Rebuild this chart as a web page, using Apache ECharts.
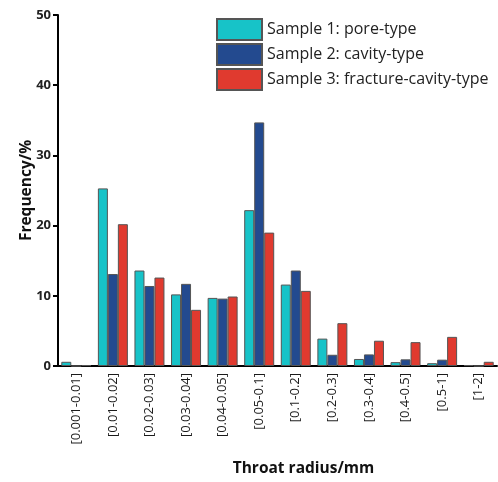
<!DOCTYPE html>
<html><head><meta charset="utf-8">
<script src="https://cdn.jsdelivr.net/npm/echarts@6/dist/echarts.min.js"></script>
<style>html,body{margin:0;padding:0;background:#fff}#c{width:498px;height:482px}</style>
</head><body><div id="c"></div>
<script>
const categories = ['[0.001-0.01]','[0.01-0.02]','[0.02-0.03]','[0.03-0.04]','[0.04-0.05]','[0.05-0.1]','[0.1-0.2]','[0.2-0.3]','[0.3-0.4]','[0.4-0.5]','[0.5-1]','[1-2]'];
const seriesNames = ['Sample 1: pore-type','Sample 2: cavity-type','Sample 3: fracture-cavity-type'];
const sample1 = [0.6, 25.3, 13.6, 10.2, 9.7, 22.2, 11.6, 3.9, 1.0, 0.55, 0.4, 0.12];
const sample2 = [0, 13.1, 11.4, 11.7, 9.6, 34.7, 13.6, 1.6, 1.65, 0.95, 0.9, 0];
const sample3 = [0.12, 20.2, 12.6, 8.0, 9.9, 19.0, 10.7, 6.1, 3.6, 3.4, 4.15, 0.6];
const yTicks = [0, 10, 20, 30, 40, 50];

const colors = ['#17c3c8', '#234a8f', '#e03a2f'];
const font = 'Open Sans';
const chart = echarts.init(document.getElementById('c'));
const mk = (name, data, i) => ({
  name, type: 'bar', data, barGap: '0%', barCategoryGap: '18%',
  itemStyle: { color: colors[i], borderColor: '#555', borderWidth: 1 }
});
chart.setOption({
  animation: false,
  textStyle: { fontFamily: font },
  legend: {
    orient: 'vertical', left: 216, top: 18, padding: 0, itemWidth: 45, itemHeight: 21, itemGap: 2,
    textStyle: { fontFamily: font, fontSize: 16, color: '#222' },
    icon: 'rect',
    data: seriesNames
  },
  grid: { left: 58, right: 1, top: 15, bottom: 114, containLabel: false },
  xAxis: {
    type: 'category', data: categories,
    name: 'Throat radius/mm', nameLocation: 'middle', nameGap: 95,
    nameTextStyle: { fontFamily: font, fontSize: 15.5, fontWeight: 'bold', color: '#111', padding: [0,0,0,52] },
    axisLine: { lineStyle: { color: '#000', width: 2 } },
    axisTick: { show: false },
    axisLabel: { rotate: 90, interval: 0, fontSize: 13, color: '#1a1a1a', fontFamily: font, margin: 7 }
  },
  yAxis: {
    type: 'value', min: yTicks[0], max: yTicks[yTicks.length-1], interval: 10,
    name: 'Frequency/%', nameLocation: 'middle', nameGap: 23, nameMoveOverlap: false,
    nameTextStyle: { fontFamily: font, fontSize: 15.5, fontWeight: 'bold', color: '#111' },
    axisLine: { show: true, lineStyle: { color: '#000', width: 2 } },
    axisTick: { show: true, length: 5, lineStyle: { color: '#000', width: 2 } },
    splitLine: { show: false },
    axisLabel: { fontSize: 13, fontWeight: 'bold', color: '#222', fontFamily: font, margin: 7 }
  },
  series: [mk(seriesNames[0], sample1, 0), mk(seriesNames[1], sample2, 1), mk(seriesNames[2], sample3, 2)]
});
</script></body></html>
